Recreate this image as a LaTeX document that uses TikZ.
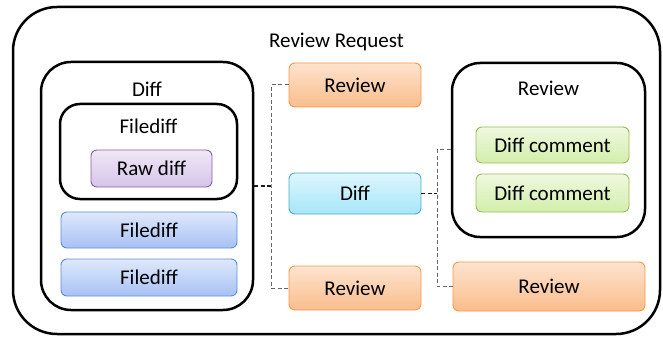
\documentclass[tikz,border=0pt]{standalone}
\usepackage{fontspec}
\setmainfont{Carlito}
\usepackage{xcolor}
\usepackage{tikz}
\usetikzlibrary{positioning}

\definecolor{revTop}{HTML}{FDE3CF}
\definecolor{revBot}{HTML}{FABD8C}
\definecolor{revLine}{HTML}{F79646}
\definecolor{diffTop}{HTML}{DDF6FD}
\definecolor{diffBot}{HTML}{A6E6F8}
\definecolor{diffLine}{HTML}{4BACC6}
\definecolor{fdTop}{HTML}{DFE8FC}
\definecolor{fdBot}{HTML}{A7C2F4}
\definecolor{fdLine}{HTML}{5B8FD3}
\definecolor{dcTop}{HTML}{EEF8DF}
\definecolor{dcBot}{HTML}{D3EEAA}
\definecolor{dcLine}{HTML}{9BBB59}
\definecolor{rawTop}{HTML}{F0E8F7}
\definecolor{rawBot}{HTML}{D5C4E9}
\definecolor{rawLine}{HTML}{8064A2}

\tikzset{
  every picture/.style={line cap=round,line join=round},
  group/.style={draw=black, line width=2.5pt, rounded corners=#1, inner sep=0pt},
  title/.style={anchor=base, inner sep=0pt},
  entity/.style={draw=#1, line width=0.9pt, rounded corners=6pt, inner sep=0pt},
  review/.style={entity=revLine, top color=revTop, bottom color=revBot},
  diffent/.style={entity=diffLine, top color=diffTop, bottom color=diffBot},
  filediff/.style={entity=fdLine, top color=fdTop, bottom color=fdBot},
  comment/.style={entity=dcLine, top color=dcTop, bottom color=dcBot},
  rawdiff/.style={entity=rawLine, top color=rawTop, bottom color=rawBot},
  link/.style={draw=black!60, line width=1pt, dash pattern=on 4pt off 2.5pt, line cap=butt},
  stub/.style={link, draw=black!90, line width=1.5pt},
}

\begin{document}
\begin{tikzpicture}[x=1pt, y=-1pt, font=\fontsize{21}{25}\selectfont]
  \useasboundingbox (0,0) rectangle (663,339);

  % review request container
  \node[group=44pt, minimum width=647pt, minimum height=327pt] (request) at (336.5,170.5) {};
  \node[title] (requestlbl) at (336.5,48) {Review Request};

  % diff with its filediffs
  \node[group=30pt, minimum width=212pt, minimum height=248pt] (diffgroup) at (147,186) {};
  \node[title] (difflbl) at (147,97) {Diff};
  \node[group=20pt, minimum width=177pt, minimum height=95pt] (fdgroup) at (148.5,151.5) {};
  \node[title] (fdlbl) at (148.5,134) {Filediff};
  \node[rawdiff, minimum width=121pt, minimum height=37pt] (raw) at (151.5,168.5) {Raw diff};
  \node[filediff, minimum width=176pt, minimum height=36pt] (fd1) at (149,230) {Filediff};
  \node[filediff, minimum width=176pt, minimum height=37pt] (fd2) at (149,277.5) {Filediff};

  % middle column
  \node[review, minimum width=132pt, minimum height=44pt] (reviewA) at (355,85) {Review};
  \node[diffent, minimum width=132pt, minimum height=41pt] (diffnode) at (355,193.5) {Diff};
  \node[review, minimum width=132pt, minimum height=44pt] (reviewB) at (355,288) {Review};

  % review with diff comments
  \node[group=28pt, minimum width=193pt, minimum height=174pt] (revgroup) at (548.5,150) {};
  \node[title] (revlbl) at (548.5,96) {Review};
  \node[comment, minimum width=153pt, minimum height=36pt] (dc1) at (552.5,145) {Diff comment};
  \node[comment, minimum width=153pt, minimum height=38pt] (dc2) at (552.5,193) {Diff comment};
  \node[review, minimum width=192pt, minimum height=49pt] (reviewC) at (549,286.5) {Review};

  % dashed links
  \coordinate (busL) at (271,0);
  \coordinate (busR) at (437,0);
  \draw[link] (reviewA.west) -| (busL |- diffgroup.east) |- (reviewB.west);
  \draw[stub] (diffgroup.east) -- (busL |- diffgroup.east);
  \draw[link] (revgroup.west) -| (busR |- diffnode.east) |- (reviewC.west);
  \draw[stub] (diffnode.east) -- (busR |- diffnode.east);
\end{tikzpicture}
\end{document}
